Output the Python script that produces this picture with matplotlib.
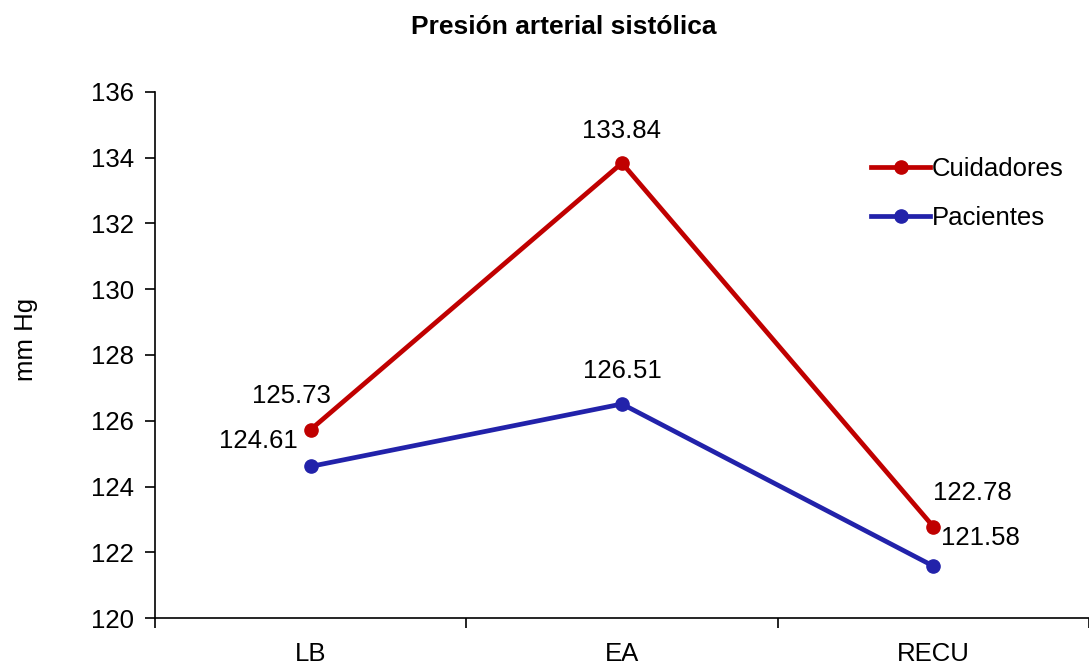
import matplotlib.pyplot as plt

plt.rcParams['font.family'] = ['Liberation Sans', 'DejaVu Sans']

categories = ["LB", "EA", "RECU"]
cuidadores = [125.73, 133.84, 122.78]
pacientes = [124.61, 126.51, 121.58]
y_ticks = [120, 122, 124, 126, 128, 130, 132, 134, 136]

red = "#C00000"
blue = "#2222AA"
fs = 18.5

fig = plt.figure(figsize=(10.89, 6.70), dpi=100)
ax = fig.add_axes([0.1423, 0.0776, 0.8577, 0.7851])

x = list(range(len(categories)))
ax.plot(x, cuidadores, color=red, lw=3.4, marker="o", ms=9.5, label="Cuidadores")
ax.plot(x, pacientes, color=blue, lw=3.4, marker="o", ms=9.5, label="Pacientes")

# value labels next to each point (offsets in pixels)
c_off = [(-19, 34), (0, 32), (39, 34)]
p_off = [(-52, 25), (0, 33), (47, 28)]
for xi, v, off in zip(x, cuidadores, c_off):
    ax.annotate(f"{v:.2f}", (xi, v), xytext=off, textcoords="offset pixels",
                ha="center", va="center", fontsize=fs)
for xi, v, off in zip(x, pacientes, p_off):
    ax.annotate(f"{v:.2f}", (xi, v), xytext=off, textcoords="offset pixels",
                ha="center", va="center", fontsize=fs)

ax.set_xlim(-0.5, 2.5)
ax.set_ylim(120, 136)
ax.set_yticks(y_ticks)
ax.set_xticks([-0.5, 0.5, 1.5, 2.5])
ax.set_xticklabels([])
ax.set_xticks(x, minor=True)
ax.set_xticklabels(categories, minor=True)
ax.tick_params(axis="x", which="minor", length=0, pad=17, labelsize=fs)
ax.tick_params(axis="x", which="major", length=7, width=1.2, direction="out")
ax.tick_params(axis="y", length=7, width=1.2, direction="out", labelsize=fs, pad=8)

for s in ["top", "right"]:
    ax.spines[s].set_visible(False)
for s in ["left", "bottom"]:
    ax.spines[s].set_linewidth(1.2)

ax.set_ylabel("mm Hg", fontsize=fs, labelpad=38, y=0.53)
fig.suptitle("Presión arterial sistólica", fontsize=19, fontweight="bold",
             x=0.518, y=0.978)

ax.legend(loc="upper left", bbox_to_anchor=(0.742, 0.92), frameon=False,
          fontsize=fs, handlelength=2.3, handletextpad=0.05, labelspacing=0.97)

fig.savefig("out.png", dpi=100)
